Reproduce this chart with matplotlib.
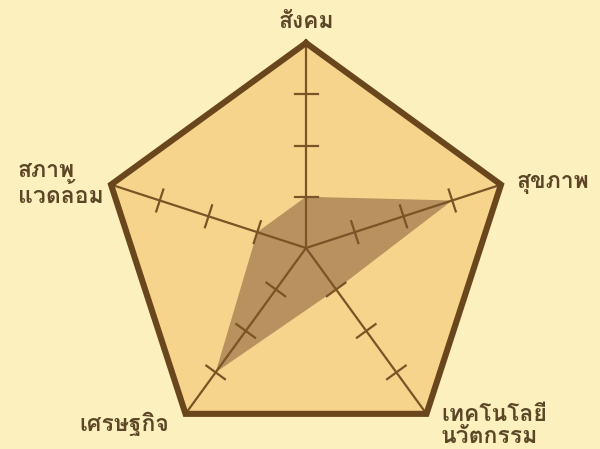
import numpy as np
import matplotlib
matplotlib.use("Agg")
import matplotlib.pyplot as plt
from matplotlib import font_manager
from matplotlib.ft2font import FT2Font

# ---- data ----
categories = ["สังคม", "สุขภาพ", "เทคโนโลยี\nนวัตกรรม", "เศรษฐกิจ", "สภาพ\nแวดล้อม"]
values = [1.0, 3.0, 1.0, 3.0, 1.0]
max_value = 4
tick_values = [1, 2, 3]

# ---- find a font that has Thai glyphs ----
thai_fonts = []
for f in font_manager.fontManager.ttflist:
    try:
        cm = FT2Font(f.fname).get_charmap()
        if ord("ส") in cm and ord("ภ") in cm:
            thai_fonts.append(f)
    except Exception:
        pass
thai_names = []
for f in sorted(thai_fonts, key=lambda f: 0 if "Bold" in f.fname else 1):
    if f.name not in thai_names:
        thai_names.append(f.name)
families = thai_names + ["DejaVu Sans"]
plt.rcParams["font.family"] = families

bg = "#FDF0BF"
fill = "#F6D48C"
outline = "#6A461C"
axis_c = "#7A5326"
data_c = "#B8915F"
text_c = "#5C4626"

fig = plt.figure(figsize=(6.0, 4.49), dpi=100, facecolor=bg)
ax = fig.add_axes([0, 0, 1, 1])
ax.set_facecolor(bg)
unit = 205 / max_value  # px per value unit
cx, cy = 306, 248
ax.set_xlim(-cx / unit, (600 - cx) / unit)
ax.set_ylim(-(449 - cy) / unit, cy / unit)
ax.axis("off")

n = len(categories)
angles = np.pi / 2 - np.arange(n) * 2 * np.pi / n

# pentagon frame
fx = max_value * np.cos(angles)
fy = max_value * np.sin(angles)
ax.fill(fx, fy, color=fill, zorder=1)

# data polygon
vals = np.array(values)
ax.fill(vals * np.cos(angles), vals * np.sin(angles), color=data_c, zorder=2, lw=0)

# spokes and ticks
half = 11.5 / unit
for a in angles:
    ax.plot([0, max_value * np.cos(a)], [0, max_value * np.sin(a)], color=axis_c, lw=1.6, zorder=3)
    px, py = -np.sin(a), np.cos(a)
    for t in tick_values:
        x0, y0 = t * np.cos(a), t * np.sin(a)
        ax.plot([x0 - half * px, x0 + half * px], [y0 - half * py, y0 + half * py],
                color=axis_c, lw=1.6, zorder=3)

ax.plot(np.append(fx, fx[0]), np.append(fy, fy[0]), color=outline, lw=4.4,
        solid_joinstyle="miter", zorder=4)

# labels (positions in px)
def P(x, y):
    return ((x - cx) / unit, (cy - y) / unit)

fs = 16.5
kw = dict(color=text_c, fontsize=fs, fontweight="bold", zorder=5, linespacing=1.1)
ax.text(*P(306, 22), categories[0], ha="center", va="center", **kw)
ax.text(*P(517, 184), categories[1], ha="left", va="center", **kw)
ax.text(*P(441, 426), categories[2], ha="left", va="center", **kw)
ax.text(*P(169, 424), categories[3], ha="right", va="center", **kw)
ax.text(*P(18, 184), categories[4], ha="left", va="center", multialignment="left", **kw)

fig.savefig("out.png", dpi=100, facecolor=bg)
